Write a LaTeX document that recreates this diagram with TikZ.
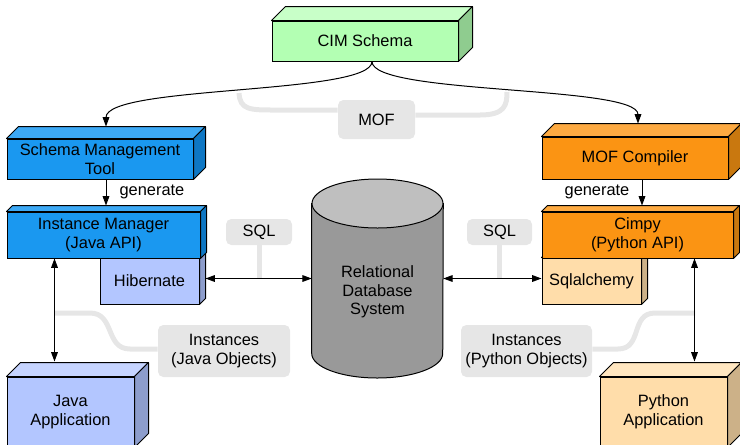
\documentclass[tikz,border=0pt]{standalone}
\usepackage{fontspec}
\setmainfont{Liberation Sans}
\usetikzlibrary{arrows.meta,calc}
\definecolor{grfront}{HTML}{B3FFB3}
\definecolor{grtop}{HTML}{C8FFC8}
\definecolor{grside}{HTML}{8FCC8F}
\definecolor{blfront}{HTML}{1A98F0}
\definecolor{bltop}{HTML}{3DA9F5}
\definecolor{blside}{HTML}{0E77C4}
\definecolor{orfront}{HTML}{FB9413}
\definecolor{ortop}{HTML}{FDAA42}
\definecolor{orside}{HTML}{C9780F}
\definecolor{lbfront}{HTML}{B3C6FF}
\definecolor{lbtop}{HTML}{C6D4FF}
\definecolor{lbside}{HTML}{8D9DCC}
\definecolor{pcfront}{HTML}{FFDDAA}
\definecolor{pctop}{HTML}{FFE6C0}
\definecolor{pcside}{HTML}{CCB188}
\definecolor{dbside}{HTML}{999999}
\definecolor{dbtop}{HTML}{BFBFBF}
\definecolor{lblgray}{HTML}{E6E6E6}
\pgfdeclarelayer{bg}
\pgfsetlayers{bg,main}
\newcommand\dfont{\fontsize{12.3}{13.9}\selectfont}
\newcommand\cubefaces[4]{%
  \filldraw[fill=#3,line width=0.75pt,line join=round] (#1.north west) -- ++(#2,-#2) -- ($(#1.north east)+(#2,-#2)$) -- (#1.north east) -- cycle;
  \filldraw[fill=#4,line width=0.75pt,line join=round] (#1.north east) -- ++(#2,-#2) -- ($(#1.south east)+(#2,-#2)$) -- (#1.south east) -- cycle;
}
\tikzset{
  cub/.style={draw=black,line width=0.75pt,align=center,inner sep=0pt,font=\dfont},
  sz/.style 2 args={minimum width=#1*0.75pt,minimum height=#2*0.75pt},
  lbl/.style={fill=lblgray,rounded corners=4pt,inner sep=0pt,align=center,font=\dfont},
  gline/.style={draw=lblgray,line width=3.75pt},
  conn/.style={draw=black,line width=0.75pt},
  tip/.style={-{Triangle[length=7pt,width=5pt]}},
  dtip/.style={{Triangle[length=7pt,width=5pt]}-{Triangle[length=7pt,width=5pt]}},
}
\begin{document}
\begin{tikzpicture}[x=0.75pt,y=-0.75pt]
\useasboundingbox (0,0) rectangle (740,444);
\clip (0,0) rectangle (740,444);

% label boxes
\node[lbl,sz={77}{39}] (mof) at (376.5,119.5) {MOF};
\node[lbl,sz={66}{26}] (sqll) at (259,232) {SQL};
\node[lbl,sz={65}{26}] (sqlr) at (499.5,232) {SQL};
\node[lbl,sz={132}{52}] (instl) at (224,351) {Instances\\(Java Objects)};
\node[lbl,sz={131}{52}] (instr) at (526.5,351) {Instances\\(Python Objects)};

% invisible database frame
\node[inner sep=0pt,sz={131}{199}] (db) at (377.5,278.5) {};

% gray annotation lines (background layer)
\coordinate (mofl) at (239,93);
\coordinate (mofr) at (507,92);
\coordinate (instla) at (55,313);
\coordinate (instra) at (695,313);
\begin{pgfonlayer}{bg}
\draw[gline] (mofl) .. controls (240,110) and (250,110) .. (275,110) -- ($(mof.west)+(0,-9.5)$);
\draw[gline] ($(mof.east)+(0,-4.5)$) -- (480,115) .. controls (505,115) and (507,105) .. (mofr);
\draw[gline] (sqll.south) -- (sqll.south |- db.west);
\draw[gline] (sqlr.south) -- (sqlr.south |- db.west);
\draw[gline] ($(instl.west)+(0,-2)$) -- (130,349) .. controls (105,349) and (115,313) .. (90,313) -- (instla);
\draw[gline] ($(instr.east)+(0,-2)$) -- (618,349) .. controls (643,349) and (630,313) .. (655,313) -- (instra);
\end{pgfonlayer}

% cuboids
\node[cub,fill=grfront,sz={186}{40}] (cim) at (365,41) {CIM Schema};
\cubefaces{cim}{14}{grtop}{grside}
\node[cub,fill=blfront,sz={186}{40}] (smt) at (100,159) {Schema Management\\Tool};
\cubefaces{smt}{12}{bltop}{blside}
\node[cub,fill=lbfront,sz={99}{46}] (hib) at (149.5,281) {Hibernate};
\cubefaces{hib}{6}{lbtop}{lbside}
\node[cub,fill=blfront,sz={193}{46}] (im) at (103.5,235) {Instance Manager\\(Java API)};
\cubefaces{im}{6}{bltop}{blside}
\node[cub,fill=orfront,sz={186}{42}] (mofc) at (635,158) {MOF Compiler};
\cubefaces{mofc}{13}{ortop}{orside}
\node[cub,fill=pcfront,sz={99}{46}] (sqla) at (591.5,281) {Sqlalchemy};
\cubefaces{sqla}{6}{pctop}{pcside}
\node[cub,fill=orfront,sz={191}{46}] (cimpy) at (637.5,235) {Cimpy\\(Python API)};
\cubefaces{cimpy}{6}{ortop}{orside}
\node[cub,fill=lbfront,sz={127}{70}] (japp) at (70.5,412) {Java\\Application};
\cubefaces{japp}{14}{lbtop}{lbside}
\node[cub,fill=pcfront,sz={127}{70}] (papp) at (663.5,412) {Python\\Application};
\cubefaces{papp}{14}{pctop}{pcside}

% cylinder
\filldraw[fill=dbside,line width=0.75pt] (db.north west |- 0,203.5) -- (db.north west |- 0,353.5)
  arc[start angle=180,end angle=360,x radius=49.125pt,y radius=18.375pt]
  -- (db.north east |- 0,203.5) -- cycle;
\filldraw[fill=dbtop,line width=0.75pt] (377.5,203.5) ellipse [x radius=49.125pt,y radius=18.375pt];
\node[align=center,font=\dfont,inner sep=0pt] (dbl) at (377.5,292) {Relational\\Database\\System};

% connectors
\draw[conn,tip] ($(cim.south)+(7,0)$) .. controls (372,95) and (106,85) .. ($(smt.north)+(6,-12)$);
\draw[conn,tip] ($(cim.south)+(7,0)$) .. controls (372,95) and (638,85) .. ($(mofc.north)+(3,-13)$);
\draw[conn,tip] ($(smt.south)+(6,0)$) -- ($(im.north)+(2.5,-6)$);
\draw[conn,tip] ($(mofc.south)+(7,0)$) -- ($(cimpy.north)+(4.5,-6)$);
\node[font=\dfont,inner sep=0pt] (genl) at (152,192) {generate};
\node[font=\dfont,inner sep=0pt] (genr) at (597,192) {generate};
\draw[conn,dtip] ($(hib.east)+(6,-2.5)$) -- (db.west);
\draw[conn,dtip] (db.east) -- ($(sqla.west)+(0,-2.5)$);
\draw[conn,dtip] ($(im.south west)+(48,0)$) -- ($(japp.north west)+(48,-15)$);
\draw[conn,dtip] ($(cimpy.south west)+(153,0)$) -- ($(papp.north west)+(95,-15)$);
\end{tikzpicture}
\end{document}
